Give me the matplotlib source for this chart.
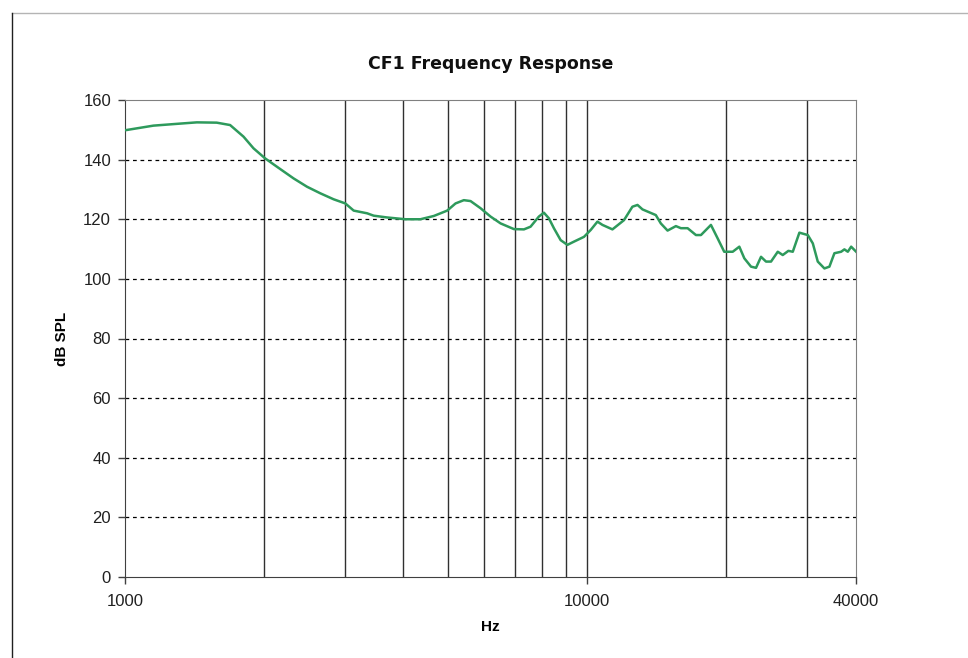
import matplotlib
matplotlib.use("Agg")
import matplotlib.pyplot as plt
from matplotlib.lines import Line2D
from matplotlib.ticker import FixedLocator, NullLocator

plt.rcParams['font.family'] = ['Liberation Sans', 'DejaVu Sans']

# frequency response (Hz, dB SPL)
freq = [1005, 1152, 1295, 1431, 1580, 1689, 1806, 1898, 2012, 2134,
        2318, 2479, 2649, 2830, 3001, 3128, 3344, 3456, 3695, 4050,
        4364, 4665, 4987, 5198, 5418, 5603, 5889, 6190, 6509, 6955,
        7311, 7557, 7877, 8077, 8282, 8490, 8780, 9081, 9386, 9865,
        10200, 10549, 10817, 11368, 12042, 12557, 12882, 13207, 14114, 14470,
        14965, 15601, 15995, 16539, 17239, 17677, 18578, 19209, 19851, 20710,
        21404, 21944, 22689, 23263, 23850, 24452, 25070, 25926, 26581, 27337,
        27943, 28880, 30117, 30879, 31653, 32718, 33543, 34389, 35563, 36148,
        36768, 37386, 38329]
spl = [149.9, 151.4, 152.0, 152.5, 152.4, 151.6, 147.7, 143.8, 140.4, 137.6,
       133.7, 130.9, 128.7, 126.7, 125.3, 122.9, 122.0, 121.2, 120.6, 120.0,
       120.0, 121.1, 122.9, 125.3, 126.4, 126.1, 123.7, 120.9, 118.6, 116.7,
       116.6, 117.5, 120.9, 122.2, 120.3, 117.0, 113.0, 111.4, 112.5, 114.1,
       116.4, 119.2, 118.1, 116.6, 119.7, 124.2, 124.8, 123.3, 121.4, 118.6,
       116.2, 117.7, 117.0, 117.0, 114.7, 114.7, 118.1, 113.6, 109.1, 109.1,
       110.8, 106.9, 104.1, 103.7, 107.4, 105.8, 105.8, 109.1, 108.0, 109.4,
       109.1, 115.5, 114.7, 111.9, 105.8, 103.5, 104.1, 108.6, 109.1, 109.9,
       109.1, 110.8, 109.1]

grid_freqs = [2000, 3000, 4000, 5000, 6000, 7000, 8000, 9000, 10000, 20000, 30000]
x_ticks = [1000, 10000, 38300]
x_labels = ['1000', '10000', '40000']
y_ticks = [0, 20, 40, 60, 80, 100, 120, 140, 160]

fig = plt.figure(figsize=(9.68, 6.58), dpi=100)
fig.patch.set_facecolor('white')

# outer chart border (top and left edges visible)
fig.add_artist(Line2D([12 / 968, 1.0], [1 - 13 / 658, 1 - 13 / 658],
                      transform=fig.transFigure, color='#b4b4b4', lw=1))
fig.add_artist(Line2D([12 / 968, 12 / 968], [0, 1 - 13 / 658],
                      transform=fig.transFigure, color='#202020', lw=1))

ax = fig.add_axes([125 / 968, 1 - 577 / 658, 731 / 968, 477 / 658])
ax.set_xscale('log')
ax.set_xlim(1000, 38300)
ax.set_ylim(0, 160)

for f in grid_freqs:
    ax.axvline(f, color='#303030', lw=1, zorder=1)
for yv in y_ticks[1:-1]:
    ax.axhline(yv, color='black', lw=0.9, linestyle=(0, (3, 3)), zorder=1)

ax.plot(freq, spl, color='#2e9a5c', lw=1.8, zorder=3)

ax.xaxis.set_major_locator(FixedLocator(x_ticks))
ax.set_xticklabels(x_labels)
ax.xaxis.set_minor_locator(NullLocator())
ax.set_yticks(y_ticks)

ax.tick_params(axis='both', direction='out', length=5, width=1, color='#404040',
               labelsize=12, labelcolor='#202020')
ax.tick_params(axis='x', pad=7)
ax.tick_params(axis='y', pad=5)

for side in ['left', 'bottom']:
    ax.spines[side].set_color('#404040')
for side in ['top', 'right']:
    ax.spines[side].set_color('#808080')

ax.set_title('CF1 Frequency Response', fontsize=12.5, fontweight='bold', pad=22,
             family=['DejaVu Sans'], color='#101010')
ax.set_xlabel('Hz', fontsize=11, fontweight='bold', labelpad=8)
ax.set_ylabel('dB SPL', fontsize=11, fontweight='bold', labelpad=10)

fig.savefig('out.png', dpi=100, facecolor='white')
